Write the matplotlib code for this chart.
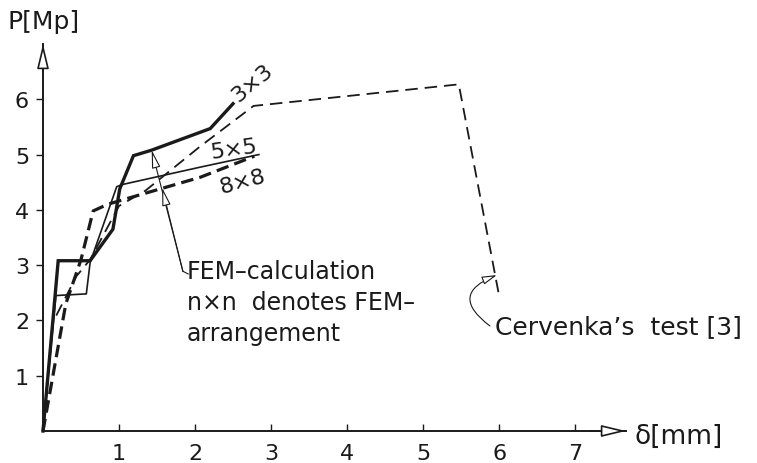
import matplotlib
matplotlib.use("Agg")
import matplotlib.pyplot as plt

plt.rcParams['font.family'] = ['DejaVu Sans']
plt.rcParams['lines.scale_dashes'] = False

# ---- data (delta [mm], P [Mp]) ----
x_3x3 = [0.0, 0.20, 0.62, 0.92, 1.01, 1.19, 1.43, 2.20, 2.50]
y_3x3 = [0.0, 3.08, 3.08, 3.65, 4.38, 4.98, 5.08, 5.47, 5.92]

x_5x5 = [0.0, 0.17, 0.57, 0.62, 0.97, 1.05, 2.06, 2.84]
y_5x5 = [0.0, 2.45, 2.48, 3.05, 4.42, 4.46, 4.77, 5.00]

x_8x8 = [0.0, 0.30, 0.50, 0.66, 0.85, 1.17, 2.07, 2.78]
y_8x8 = [0.0, 2.30, 3.10, 3.98, 4.10, 4.23, 4.59, 4.97]

x_test = [0.0, 0.13, 0.44, 0.62, 1.00, 1.35, 2.07, 2.77, 5.47, 6.00]
y_test = [0.0, 1.97, 2.80, 3.10, 4.07, 4.35, 5.15, 5.88, 6.27, 2.45]

x_ticks = [1, 2, 3, 4, 5, 6, 7]
y_ticks = [1, 2, 3, 4, 5, 6]

fem_text = ["FEM\u2013calculation", "n\u00d7n  denotes FEM\u2013", "arrangement"]
test_text = "Cervenka\u2019s  test [3]"

ink = "#1a1a1a"

fig = plt.figure(figsize=(7.57, 4.64), dpi=100)
ax = fig.add_axes([43/757, 32/464, 583/757, 387/464])
ax.set_xlim(0, 7.67)
ax.set_ylim(0, 7.0)

for s in ["top", "right"]:
    ax.spines[s].set_visible(False)
for s in ["left", "bottom"]:
    ax.spines[s].set_linewidth(1.4)
    ax.spines[s].set_color(ink)

ax.set_xticks(x_ticks)
ax.set_yticks(y_ticks)
ax.tick_params(axis='x', direction='in', length=5, width=1.0, pad=9,
               labelsize=16, colors=ink)
ax.tick_params(axis='y', direction='out', length=5, width=1.0, pad=5,
               labelsize=16, colors=ink)

# axis arrowheads (open)
arrow_kw = dict(arrowstyle='-|>,head_length=15,head_width=3.6', mutation_scale=1,
                fc='white', ec=ink, lw=1.2, shrinkA=0, shrinkB=0)
ax.annotate('', xy=(0, 7.0), xytext=(0, 6.5), arrowprops=arrow_kw,
            annotation_clip=False)
ax.annotate('', xy=(7.67, 0), xytext=(7.2, 0), arrowprops=arrow_kw,
            annotation_clip=False)

# curves
ax.plot(x_test, y_test, color=ink, lw=1.3, dashes=(9, 5), clip_on=False)
ax.plot(x_8x8, y_8x8, color=ink, lw=2.3, dashes=(9, 4.5), clip_on=False)
ax.plot(x_5x5, y_5x5, color=ink, lw=1.2, clip_on=False)
ax.plot(x_3x3, y_3x3, color=ink, lw=2.4, clip_on=False, solid_joinstyle='miter')

# curve labels
ax.text(2.75, 6.31, "3\u00d73", fontsize=16, rotation=40, ha='center', va='center', color=ink)
ax.text(2.51, 5.10, "5\u00d75", fontsize=16, rotation=8, ha='center', va='center', color=ink)
ax.text(2.63, 4.52, "8\u00d78", fontsize=16, rotation=15, ha='center', va='center', color=ink)

# FEM annotation
hook_x = [1.91, 1.84]
hook_y = [2.84, 2.89]
ax.plot(hook_x, hook_y, color=ink, lw=0.8)
fem_kw = dict(arrowstyle='-|>,head_length=11,head_width=2.6', mutation_scale=1,
              fc='white', ec=ink, lw=0.8, shrinkA=0, shrinkB=0)
ax.annotate('', xy=(1.43, 5.08), xytext=(1.84, 2.89), arrowprops=fem_kw)
ax.annotate('', xy=(1.567, 4.40), xytext=(1.84, 2.89), arrowprops=fem_kw)
for i, t in enumerate(fem_text):
    ax.text(1.89, 2.89 - i * 0.56, t, fontsize=17, ha='left', va='center', color=ink)

# Cervenka annotation
ax.annotate('', xy=(5.97, 2.82), xytext=(5.88, 1.90),
            arrowprops=dict(arrowstyle='-|>,head_length=9,head_width=2.5',
                            mutation_scale=1, fc='white', ec=ink, lw=0.8,
                            shrinkA=0, shrinkB=0, connectionstyle='arc3,rad=-0.9'))
ax.text(5.95, 1.90, test_text, fontsize=18, ha='left', va='center', color=ink)

# axis titles
fig.text(8/757, 1 - 22/464, "P[Mp]", fontsize=18, ha='left', va='center', color=ink)
fig.text(634/757, 1 - 437/464, "\u03b4[mm]", fontsize=19, ha='left', va='center', color=ink)

fig.savefig("out.png", dpi=100, facecolor='white')
